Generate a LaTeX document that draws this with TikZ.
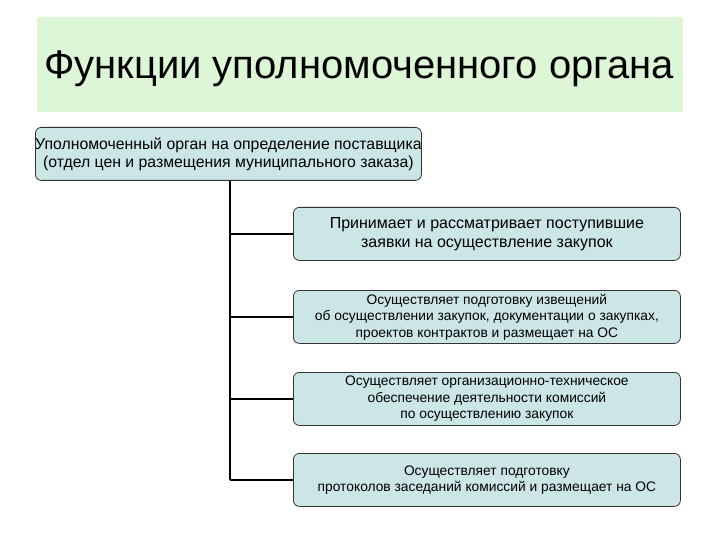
\documentclass[tikz,border=0pt]{standalone}
\usepackage{fontspec}
\setmainfont{Liberation Sans}
\definecolor{band}{HTML}{DDF7D6}
\definecolor{boxfill}{HTML}{CCE6E6}
\tikzset{x=1pt,y=-1pt,
 fbox/.style={draw=black!80,fill=boxfill,rounded corners=6pt,line width=0.8pt,minimum width=387pt,minimum height=53pt,align=center,font=\fontsize{13.8}{16.5}\selectfont,inner sep=1pt},
 conn/.style={line width=1.6pt,black}}
\begin{document}
\begin{tikzpicture}
\useasboundingbox (0,0) rectangle (720,540);
\fill[band] (37,17) rectangle (683,112);
\node (title) at (359,69) {\fontsize{40}{44}\selectfont Функции уполномоченного органа};
\node[fbox,minimum width=386pt,anchor=north west] (top) at (35,127) {};
\node[align=center,font=\fontsize{15.8}{18}\selectfont,inner sep=0pt] (toptext) at (top.center) {Уполномоченный орган на определение поставщика\\(отдел цен и размещения муниципального заказа)};
\node[fbox,anchor=north west,font=\fontsize{16}{19}\selectfont] (b1) at (293,207) {Принимает и рассматривает поступившие\\заявки на осуществление закупок};
\node[fbox,anchor=north west] (b2) at (293,290) {Осуществляет подготовку извещений\\об осуществлении закупок, документации о закупках,\\проектов контрактов и размещает на ОС};
\node[fbox,anchor=north west] (b3) at (293,372) {Осуществляет организационно-техническое\\обеспечение деятельности комиссий\\по осуществлению закупок};
\node[fbox,anchor=north west] (b4) at (293,453) {Осуществляет подготовку\\протоколов заседаний комиссий и размещает на ОС};
\coordinate (v) at (230,0);
\draw[conn] (top.south -| v) -- (b4.west -| v);
\foreach \b in {b1,b2,b3,b4} \draw[conn] (\b.west -| v) -- (\b.west);
\end{tikzpicture}
\end{document}
